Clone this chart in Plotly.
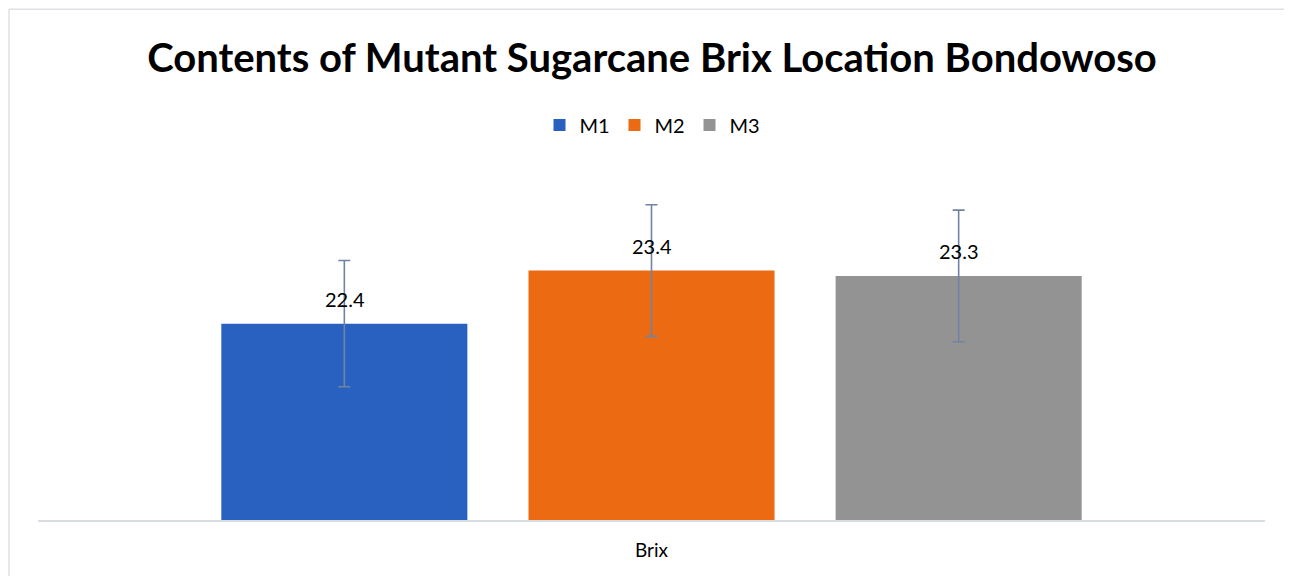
import plotly.graph_objects as go

# Data
category = ["Brix"]
series_names = ["M1", "M2", "M3"]
brix_values = [22.4, 23.4, 23.3]
brix_errors = [1.19, 1.24, 1.24]
bar_colors = ["#2961C0", "#EC6B12", "#939393"]

fig = go.Figure()

for name, val, err, col in zip(series_names, brix_values, brix_errors, bar_colors):
    fig.add_trace(
        go.Bar(
            x=category,
            y=[val],
            name=name,
            marker_color=col,
            marker_line_width=0,
            error_y=dict(type="data", array=[err], color="#6F84A3", thickness=1.6, width=6),
        )
    )

# data labels above each bar (bars in the group are ~307 px apart)
for i, val in enumerate(brix_values):
    fig.add_annotation(
        x=category[0], y=val, text=f"{val:.1f}",
        xshift=(i - 1) * 307, yshift=25, yanchor="middle",
        showarrow=False, font=dict(size=20, color="#000000", family="Lato"),
    )

# page body adds an 8 px offset, so margins are shifted to compensate
fig.update_layout(
    width=1292,
    height=576,
    margin=dict(l=30, r=35, t=142, b=64),
    paper_bgcolor="white",
    plot_bgcolor="white",
    font=dict(family="Lato", size=19, color="#000000"),
    title=dict(
        text="<b>Contents of Mutant Sugarcane Brix Location Bondowoso</b>",
        x=(652 - 8) / 1292, xanchor="center",
        y=1 - 50 / 576, yanchor="middle", yref="container",
        font=dict(family="Lato", size=40, color="#000000"),
    ),
    legend=dict(
        orientation="h",
        x=(652 - 8 - 30) / 1227, xanchor="center",
        y=1 - 117 / 576, yanchor="middle", yref="container",
        font=dict(size=20),
        itemwidth=30,
        entrywidth=30,
        entrywidthmode="pixels",
    ),
    barmode="group",
    bargap=0.249,
    bargroupgap=0.199,
    shapes=[
        dict(type="rect", xref="paper", yref="paper",
             x0=-29 / 1227, x1=1.2, y0=-0.5, y1=(512 + 8) / 370,
             line=dict(color="#DDE1E6", width=1.5), layer="below"),
    ],
)

fig.update_xaxes(showline=True, linecolor="#D9DCE0", linewidth=2, ticks="",
                 tickfont=dict(size=19), ticklabelstandoff=12, showgrid=False)
fig.update_yaxes(range=[18.7, 25.55], visible=False, showgrid=False)

fig.write_html("out.html")
